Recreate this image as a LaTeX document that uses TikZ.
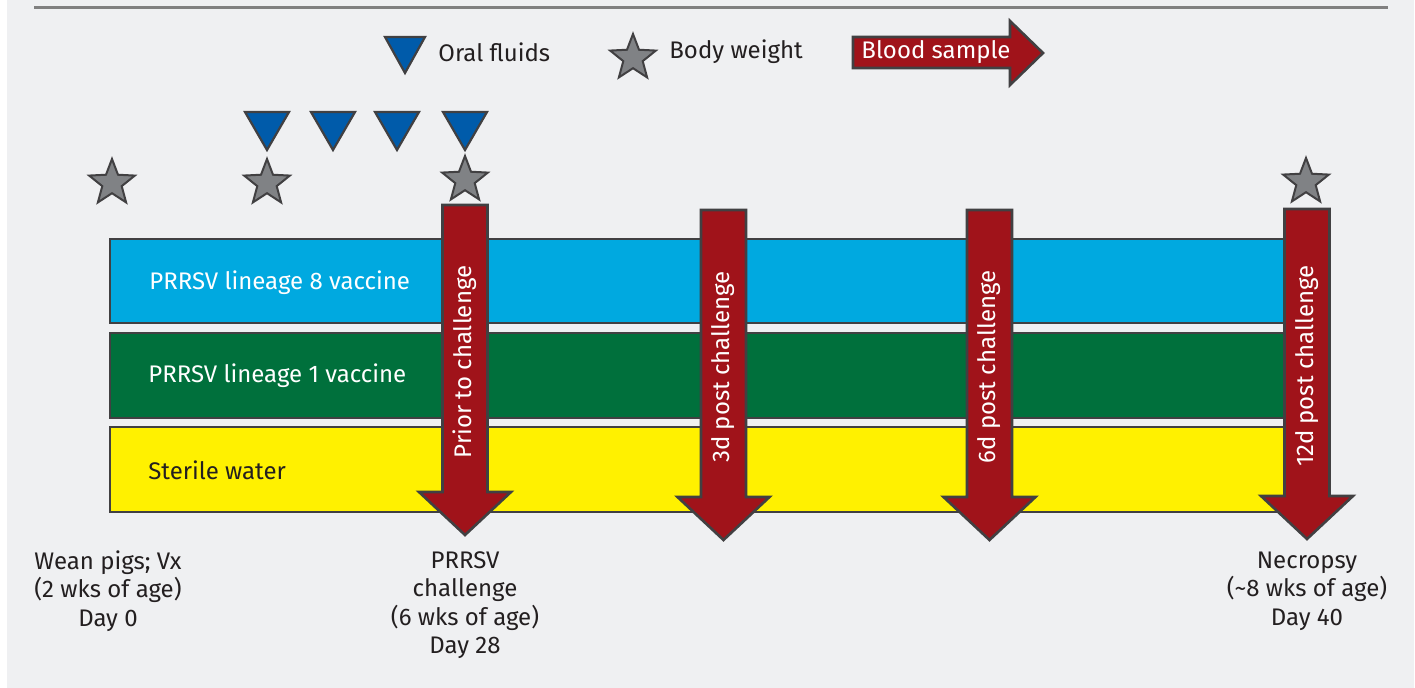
\documentclass[tikz,border=0pt]{standalone}
\usepackage{fontspec}
\setmainfont{Fira Sans}
\usepackage{xcolor}
\usepackage{tikz}
\usetikzlibrary{shapes.geometric}
\definecolor{PanelGray}{HTML}{EFF0F2}
\definecolor{RuleGray}{HTML}{808080}
\definecolor{EdgeGray}{HTML}{414042}
\definecolor{InkDark}{HTML}{231F20}
\definecolor{FluidBlue}{HTML}{005BAA}
\definecolor{StarGray}{HTML}{808285}
\definecolor{BloodRed}{HTML}{A0131A}
\definecolor{LineageEight}{HTML}{00A9E0}
\definecolor{LineageOne}{HTML}{00703C}
\definecolor{WaterYellow}{HTML}{FFF100}

\tikzset{
  band/.style={draw=EdgeGray, line width=1pt},
  bloodarrow/.style={fill=BloodRed, draw=EdgeGray, line width=1.3pt, line join=miter},
  fluid/.style={fill=FluidBlue, draw=EdgeGray, line width=1.1pt, line join=miter},
  bodywt/.style={star, star points=5, star point ratio=2.35, minimum size=24pt,
    inner sep=0pt, fill=StarGray, draw=EdgeGray, line width=1pt},
  lbl/.style={font=\fontsize{12}{14.25}\selectfont, text=InkDark, align=center, inner sep=0pt},
  arrowlbl/.style={lbl, text=white, rotate=90}
}

\begin{document}
\begin{tikzpicture}[x=0.5pt, y=-0.5pt]
    \useasboundingbox (0,0) rectangle (1415,688);
    \fill[white] (0,0) rectangle (1415,688);
    \fill[PanelGray] (7,0) rectangle (1414,688);
    \draw[RuleGray, line width=1.5pt] (34,8) -- (1388,8);

    % legend
    \draw[fluid] (385,37) -- (425,37) -- (405,73) -- cycle;
    \node[lbl, anchor=west] (lgfluid) at (438,52) {Oral fluids};
    \node[bodywt] (lgstar) at (633,58) {};
    \node[lbl, anchor=west] (lgweight) at (669,52) {Body weight};
    \draw[bloodarrow] (853,37) -- (1010,37) -- (1010,21) -- (1043,53)
      -- (1010,85) -- (1010,68) -- (853,68) -- cycle;
    \node[lbl, text=white] (lgblood) at (936,52) {Blood sample};

    % treatment groups
    \draw[band, fill=LineageEight] (110,239) rectangle (1300,323);
    \draw[band, fill=LineageOne] (110,333) rectangle (1300,418);
    \draw[band, fill=WaterYellow] (110,427) rectangle (1300,512);
    \node[lbl, text=white, anchor=west] (grpeight) at (149,283) {PRRSV lineage 8 vaccine};
    \node[lbl, text=white, anchor=west] (grpone) at (148,376) {PRRSV lineage 1 vaccine};
    \node[lbl, anchor=west] (grpwater) at (148,470) {Sterile water};

    % oral fluid samples
    \foreach \fx [count=\i] in {267,333,397,465}
      \draw[fluid] (\fx-22,112) -- (\fx+22,112) -- (\fx,150) -- cycle;

    % body weights
    \node[bodywt] (wt0) at (112,183) {};
    \node[bodywt] (wt14) at (267,183) {};
    \node[bodywt] (wt28) at (465,180) {};
    \node[bodywt] (wt40) at (1306,182) {};

    % blood samples
    \foreach \cx/\yt/\txt [count=\i] in {465/205/Prior to challenge,
        723.5/210/3d post challenge, 989.5/210/6d post challenge,
        1307/209/12d post challenge} {
      \draw[bloodarrow] (\cx-22.5,\yt) -- (\cx+22.5,\yt) -- (\cx+22.5,\yt+287)
        -- (\cx+46,\yt+287) -- (\cx,\yt+330) -- (\cx-46,\yt+287)
        -- (\cx-22.5,\yt+287) -- cycle;
      \node[arrowlbl] (blood\i) at (\cx,\yt+157) {\txt};
    }

    % time points
    \node[lbl] (dayzero) at (108,591) {Wean pigs; Vx\\(2 wks of age)\\Day 0};
    \node[lbl] (daychal) at (465,605) {PRRSV\\challenge\\(6 wks of age)\\Day 28};
    \node[lbl] (daynec) at (1307,591) {Necropsy\\(\textasciitilde 8 wks of age)\\Day 40};
  \end{tikzpicture}
\end{document}
